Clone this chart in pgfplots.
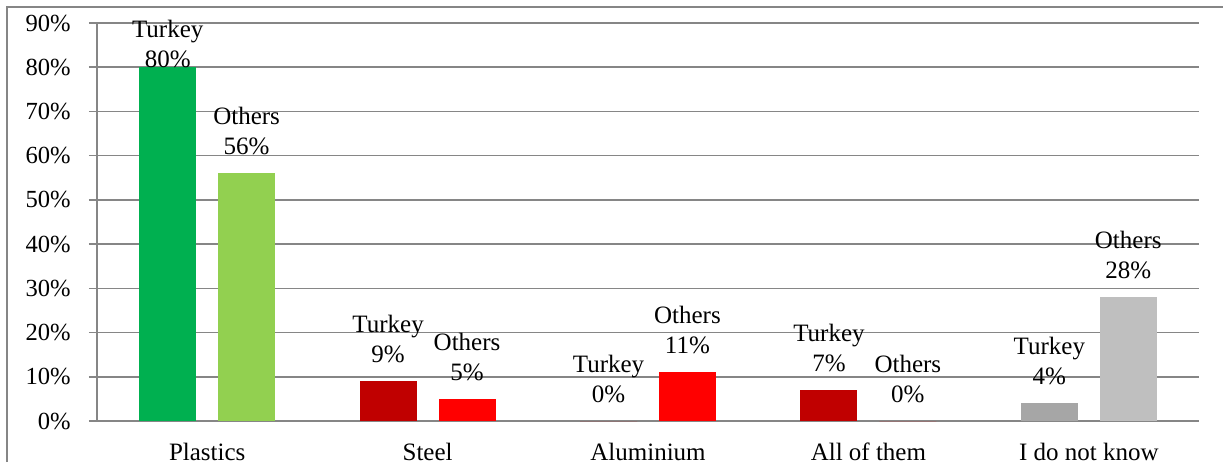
\documentclass[border=0pt]{standalone}
\usepackage{pgfplots}
\pgfplotsset{compat=1.18}
\usepackage{fontspec}
\setmainfont{Liberation Serif}

\definecolor{gA}{HTML}{00B050}
\definecolor{gB}{HTML}{92D050}
\definecolor{rA}{HTML}{C00000}
\definecolor{rB}{HTML}{FF0000}
\definecolor{kA}{HTML}{A6A6A6}
\definecolor{kB}{HTML}{BFBFBF}
\definecolor{gridc}{HTML}{868686}

\pgfplotsset{
  bars/.style={ybar, bar width=28.5pt, bar shift=0pt, draw=none},
  tk/.style={nodes near coords={Turkey\\\pgfmathprintnumber{\pgfplotspointmeta}\%}},
  ot/.style={nodes near coords={Others\\\pgfmathprintnumber{\pgfplotspointmeta}\%}},
}

\begin{document}
\begin{tikzpicture}
\useasboundingbox (0,0) rectangle (611.5pt,231pt);
% outer chart frame
\draw[gridc, line width=0.6pt] (3.5pt,0) -- (3.5pt,227.5pt) -- (611.5pt,227.5pt);

\begin{axis}[
  at={(48.5pt,20.5pt)}, anchor=south west,
  scale only axis,
  width=551pt, height=199pt,
  xmin=-0.5, xmax=4.5,
  ymin=0, ymax=90,
  clip=false,
  axis lines*=left,
  axis line style={gridc, line width=0.75pt},
  ymajorgrids=true,
  grid style={gridc, line width=0.75pt},
  ytick={0,10,...,90},
  yticklabel={\pgfmathprintnumber{\tick}\%},
  /pgf/number format/assume math mode=true,
  ytick style={gridc, line width=0.75pt},
  tick align=outside,
  major tick length=4pt,
  xtick={0,1,2,3,4},
  xticklabels={Plastics, Steel, Aluminium, All of them, I do not know},
  major x tick style={draw=none},
  extra x ticks={-0.5,0.5,1.5,2.5,3.5,4.5},
  extra x tick labels={},
  extra x tick style={major x tick style={gridc, line width=0.75pt}, xmajorgrids=false},
  yticklabel style={font=\fontsize{12.3}{14}\selectfont, inner sep=0pt, xshift=-9pt},
  xticklabel style={font=\fontsize{12.5}{15}\selectfont, anchor=base, inner sep=0pt, yshift=-15.5pt},
  every node near coord/.style={font=\fontsize{12.5}{15}\selectfont, align=center, anchor=south, inner sep=0pt, yshift=9pt, black},
]
% Plastics
\addplot[bars, fill=gA, tk, every node near coord/.append style={yshift=-9.5pt}] coordinates {(-0.179,80)};
\addplot[bars, fill=gB, ot] coordinates {(0.179,56)};
% Steel
\addplot[bars, fill=rA, tk] coordinates {(0.821,9)};
\addplot[bars, fill=rB, ot] coordinates {(1.179,5)};
% Aluminium
\addplot[bars, fill=rA, tk] coordinates {(1.821,0)};
\addplot[bars, fill=rB, ot] coordinates {(2.179,11)};
% All of them
\addplot[bars, fill=rA, tk] coordinates {(2.821,7)};
\addplot[bars, fill=rB, ot] coordinates {(3.179,0)};
% I do not know
\addplot[bars, fill=kA, tk] coordinates {(3.821,4)};
\addplot[bars, fill=kB, ot] coordinates {(4.179,28)};
\end{axis}
\end{tikzpicture}
\end{document}
